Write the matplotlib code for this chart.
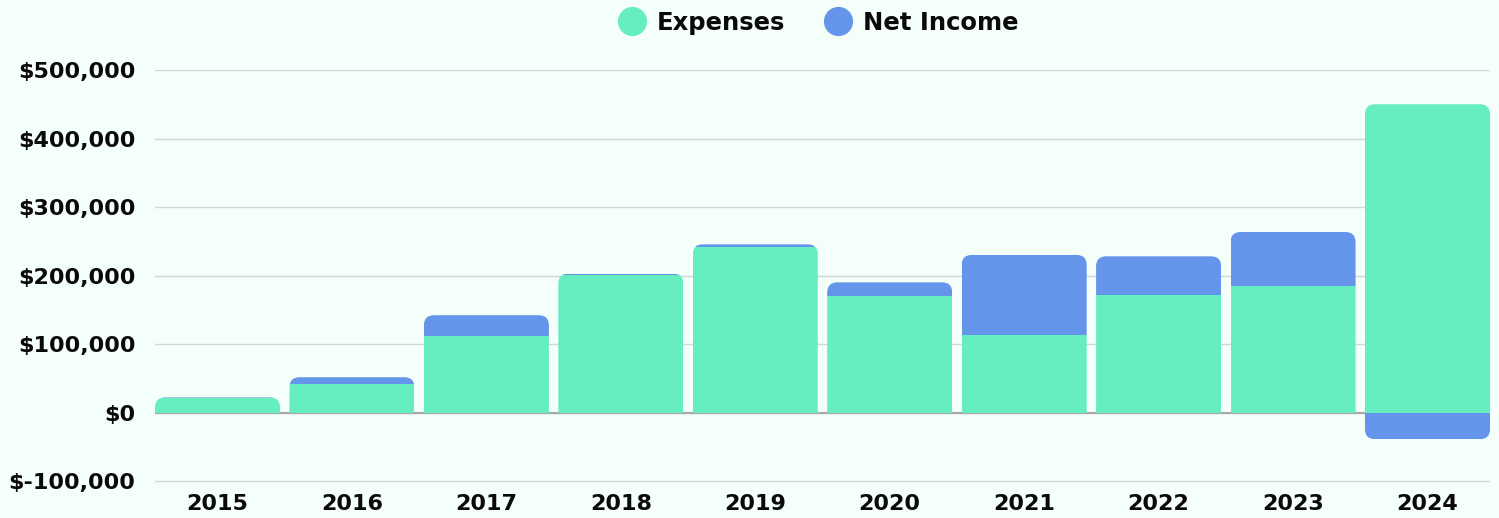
import matplotlib
matplotlib.use("Agg")
import matplotlib.pyplot as plt
from matplotlib.patches import FancyBboxPatch
from matplotlib.ticker import FuncFormatter
from matplotlib.lines import Line2D

years = ["2015", "2016", "2017", "2018", "2019", "2020", "2021", "2022", "2023", "2024"]
expenses = [21000, 42000, 111000, 201000, 241000, 170000, 113000, 171000, 184000, 450000]
net_income = [1000, 9500, 31000, 1800, 4500, 20000, 117000, 57000, 79500, -39000]

EXP_COLOR = "#66EEC0"
NET_COLOR = "#6595EB"
BG = "#F5FFFA"

plt.rcParams["font.family"] = ["DejaVu Sans"]
plt.rcParams["font.weight"] = "bold"

W, H, DPI = 1499, 518, 100
fig = plt.figure(figsize=(W / DPI, H / DPI), dpi=DPI, facecolor=BG)
ax = fig.add_axes([155 / W, 1 - 483 / H, (1490 - 155) / W, (483 - 70) / H])
ax.set_facecolor(BG)

n = len(years)
x = list(range(n))
bw = 0.93
ax.set_xlim(-bw / 2, n - 1 + bw / 2)
ax.set_ylim(-100000 - 600000 * 2 / 411, 500000)

ax.set_yticks(range(-100000, 500001, 100000))
ax.yaxis.set_major_formatter(FuncFormatter(lambda v, p: "$0" if v == 0 else ("$-{:,.0f}".format(-v) if v < 0 else "${:,.0f}".format(v))))
ax.grid(axis="y", color="#D3D6D8", linewidth=1)
ax.set_axisbelow(True)
for s in ax.spines.values():
    s.set_visible(False)
ax.tick_params(axis="both", length=0, labelsize=16, pad=14, labelcolor="#0A0A0A")
ax.set_xticks(x)
ax.set_xticklabels(years)
for lab in ax.get_xticklabels() + ax.get_yticklabels():
    lab.set_fontweight("bold")
ax.tick_params(axis="x", pad=8)
ax.axhline(0, color="#A8A8A8", linewidth=1.5, zorder=1)

bars_e = ax.bar(x, expenses, width=bw, color=EXP_COLOR, zorder=2)
bottoms = [e if ni >= 0 else 0 for e, ni in zip(expenses, net_income)]
bars_n = ax.bar(x, net_income, width=bw, bottom=bottoms, color=NET_COLOR, zorder=2)

# rounded clip shapes
fig.canvas.draw()
xpp = (ax.get_xlim()[1] - ax.get_xlim()[0]) / ax.bbox.width
ypp = (ax.get_ylim()[1] - ax.get_ylim()[0]) / ax.bbox.height
r_px = 10
r = r_px * xpp
aspect = ypp / xpp
for i in range(n):
    top = max(expenses[i], expenses[i] + max(net_income[i], 0))
    low = min(0, net_income[i]) if net_income[i] < 0 else -60000
    clip = FancyBboxPatch((x[i] - bw / 2, low), bw, top - low,
                          boxstyle=f"round,pad=0,rounding_size={r}",
                          mutation_aspect=aspect, transform=ax.transData,
                          facecolor="none", edgecolor="none")
    ax.add_patch(clip)
    bars_e[i].set_clip_path(clip)
    bars_n[i].set_clip_path(clip)

handles = [Line2D([], [], marker="o", linestyle="", markersize=20, markerfacecolor=EXP_COLOR, markeredgecolor=EXP_COLOR),
           Line2D([], [], marker="o", linestyle="", markersize=20, markerfacecolor=NET_COLOR, markeredgecolor=NET_COLOR)]
fig.legend(handles, ["Expenses", "Net Income"], loc="center", bbox_to_anchor=(818 / W, 1 - 23 / H),
           ncol=2, frameon=False, prop={"size": 17.5, "weight": "bold"},
           handletextpad=0.4, columnspacing=1.6, handlelength=1.2, labelcolor="#0A0A0A")

fig.savefig("out.png", dpi=DPI, facecolor=BG)
